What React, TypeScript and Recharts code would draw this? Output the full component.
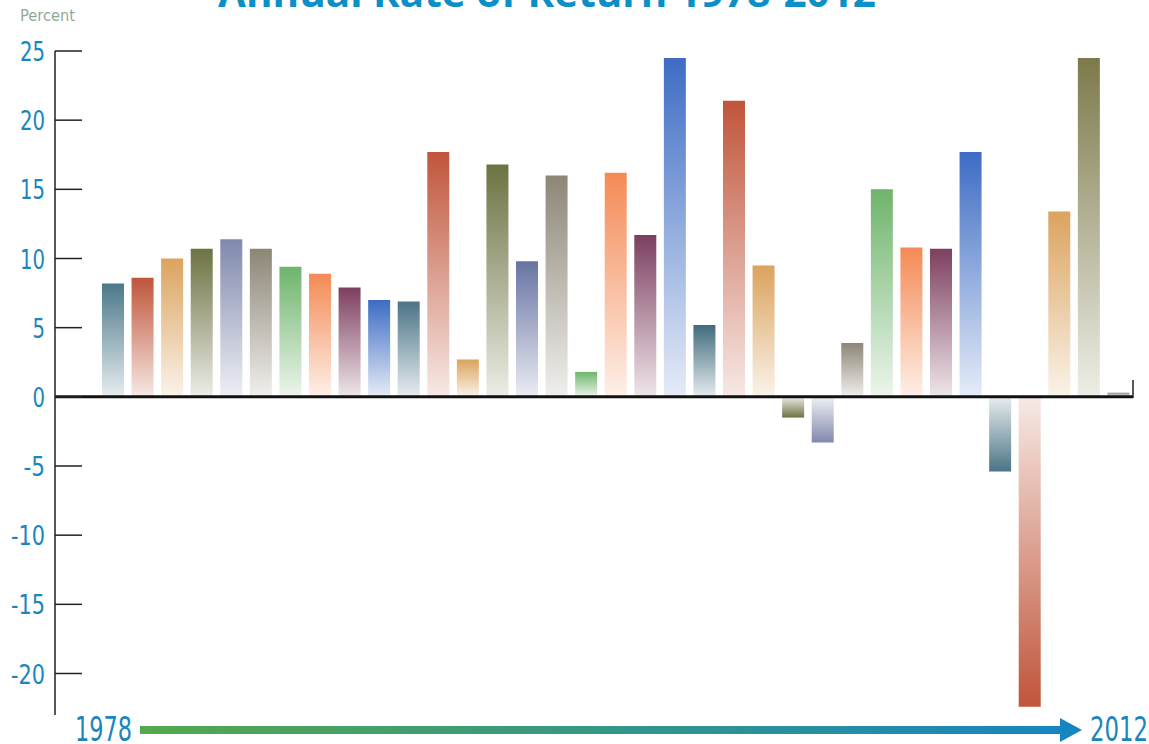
import React from 'react';
import { BarChart, Bar, XAxis, YAxis, ReferenceLine, Cell } from 'recharts';

const years = [
  '1978', '1979', '1980', '1981', '1982', '1983', '1984', '1985', '1986', '1987',
  '1988', '1989', '1990', '1991', '1992', '1993', '1994', '1995', '1996', '1997',
  '1998', '1999', '2000', '2001', '2002', '2003', '2004', '2005', '2006', '2007',
  '2008', '2009', '2010', '2011', '2012',
];

const returns = [
  8.2, 8.6, 10.0, 10.7, 11.4, 10.7, 9.4, 8.9, 7.9, 7.0,
  6.9, 17.7, 2.7, 16.8, 9.8, 16.0, 1.8, 16.2, 11.7, 24.5,
  5.2, 21.4, 9.5, -1.5, -3.3, 3.9, 15.0, 10.8, 10.7, 17.7,
  -5.4, -22.4, 13.4, 24.5, 0.3,
];

const barColors = [
  '#4b7889', '#c0553a', '#dba35e', '#6d7242', '#8089ad', '#8d8677', '#6fb46c', '#f48a55', '#7d3f5f', '#3d6cc4',
  '#4b7486', '#c0553a', '#dba35e', '#6d7242', '#6873a3', '#8d8677', '#6fb46c', '#f48a55', '#7d3f5f', '#3d6cc4',
  '#3f6b7c', '#c0553a', '#dba35e', '#6d7242', '#8089ad', '#8d8677', '#6fb46c', '#f48a55', '#7d3f5f', '#3d6cc4',
  '#4b7486', '#c0553a', '#dba35e', '#7c7a4a', '#8d8d8d',
];

const yTicks = [-20, -15, -10, -5, 0, 5, 10, 15, 20, 25];

const data = years.map((year, i) => ({ year, value: returns[i] }));

const BLUE = '#1a86bd';
const NARROW = "'Liberation Sans Narrow', 'DejaVu Sans Condensed', 'Roboto', sans-serif";

// condensed look: squeeze the digits to the width used in the print chart
const YTick = (props: any) => {
  const { x, y, payload } = props;
  const label = String(payload.value);
  const digits = label.replace('-', '').length;
  const len = digits * 12.5 + (label.startsWith('-') ? 9 : 0);
  return (
    <text
      x={x}
      y={y}
      dy={10}
      textAnchor="end"
      fill={BLUE}
      fontSize={27}
      fontFamily={NARROW}
      textLength={len}
      lengthAdjust="spacingAndGlyphs"
    >
      {label}
    </text>
  );
};

const App: React.FC = () => {
  return (
    <div style={{ position: 'absolute', top: 0, left: 0, width: 1149, height: 744, background: '#fff' }}>
      <BarChart
        width={1149}
        height={744}
        data={data}
        margin={{ top: 51, right: 16, bottom: 29, left: 0 }}
        barSize={22}
      >
        <defs>
          {barColors.map((c, i) => (
            <React.Fragment key={i}>
              <linearGradient id={`down${i}`} x1="0" y1="0" x2="0" y2="1">
                <stop offset="0%" stopColor={c} stopOpacity={1} />
                <stop offset="100%" stopColor={c} stopOpacity={0.13} />
              </linearGradient>
              <linearGradient id={`up${i}`} x1="0" y1="1" x2="0" y2="0">
                <stop offset="0%" stopColor={c} stopOpacity={1} />
                <stop offset="100%" stopColor={c} stopOpacity={0.13} />
              </linearGradient>
            </React.Fragment>
          ))}
        </defs>
        <XAxis dataKey="year" hide padding={{ left: 43, right: 0 }} />
        <YAxis
          width={55}
          domain={[-23, 25]}
          ticks={yTicks}
          interval={0}
          axisLine={{ stroke: '#222', strokeWidth: 1.5 }}
          tickLine={{ stroke: '#222', strokeWidth: 1.5 }}
          tickSize={-27}
          tickMargin={37}
          tick={<YTick />}
        />
        <Bar dataKey="value" isAnimationActive={false}>
          {data.map((d, i) => (
            <Cell key={d.year} fill={d.value >= 0 ? `url(#down${i})` : `url(#up${i})`} />
          ))}
        </Bar>
        <ReferenceLine y={0} stroke="#111" strokeWidth={3} />
      </BarChart>
      <svg
        width={1149}
        height={744}
        style={{ position: 'absolute', top: 0, left: 0, pointerEvents: 'none' }}
      >
        <defs>
          <linearGradient id="arrowGrad" x1="0" y1="0" x2="1" y2="0">
            <stop offset="0%" stopColor="#55a84c" />
            <stop offset="100%" stopColor="#1785c0" />
          </linearGradient>
        </defs>
        <text
          x={218}
          y={7}
          fill="#0b8fc7"
          fontSize={40}
          fontWeight="bold"
          fontFamily="'Open Sans', sans-serif"
          textLength={658}
          lengthAdjust="spacingAndGlyphs"
        >
          Annual Rate of Return 1978-2012
        </text>
        <text x={20} y={21} fill="#8fa89a" fontSize={15} fontFamily={NARROW} textLength={55} lengthAdjust="spacingAndGlyphs">
          Percent
        </text>
        <line x1={1133} y1={380} x2={1133} y2={398} stroke="#222" strokeWidth={1.5} />
        <rect x={140} y={726} width={922} height={8} fill="url(#arrowGrad)" />
        <polygon points="1060,718 1082,730 1060,742" fill="#1785c0" />
        <text x={75} y={741} fill={BLUE} fontSize={34} fontFamily={NARROW} textLength={57} lengthAdjust="spacingAndGlyphs">
          1978
        </text>
        <text x={1090} y={741} fill={BLUE} fontSize={34} fontFamily={NARROW} textLength={58} lengthAdjust="spacingAndGlyphs">
          2012
        </text>
      </svg>
    </div>
  );
};

export default App;
